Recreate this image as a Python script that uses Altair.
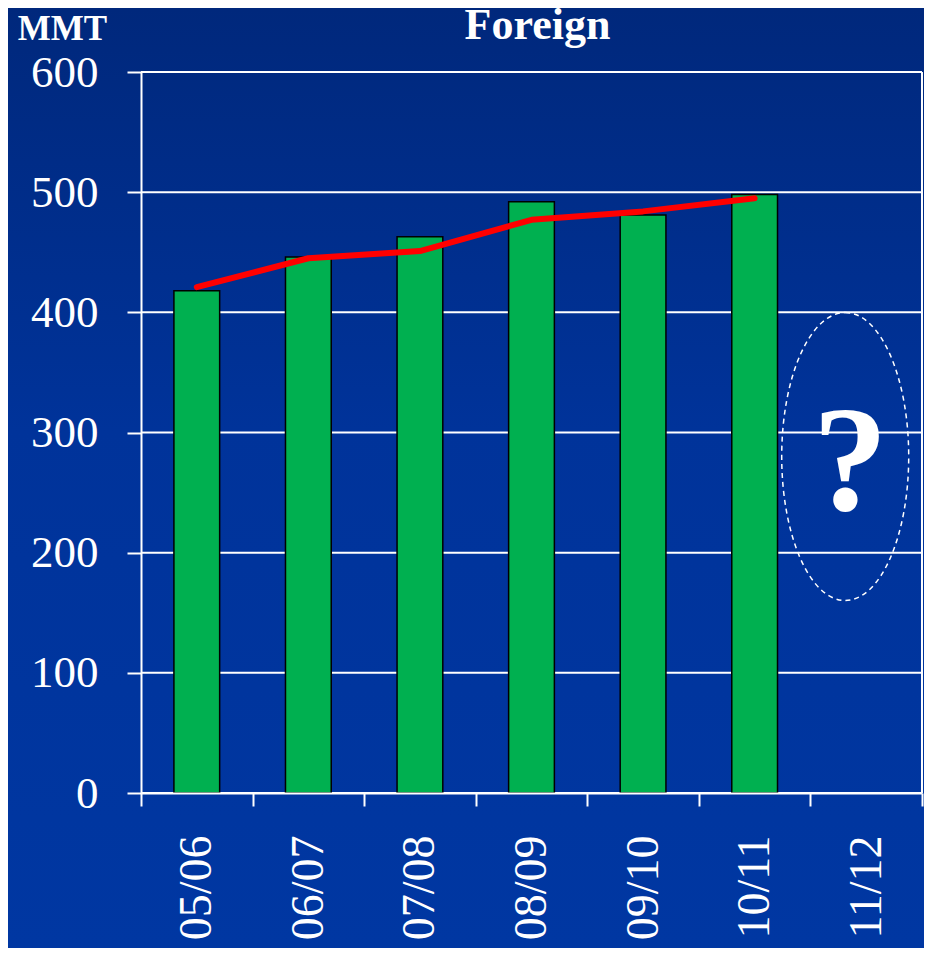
import altair as alt
import pandas as pd

# ---- data ----
seasons = ["05/06", "06/07", "07/08", "08/09", "09/10", "10/11", "11/12"]
bar_seasons = ["05/06", "06/07", "07/08", "08/09", "09/10", "10/11"]
bar_values = [418, 446, 463, 492, 481, 498]
line_values = [421, 445, 451, 477, 484, 495]
y_ticks = [0, 100, 200, 300, 400, 500, 600]
note_season = ["11/12"]
note_value = [280]
note_text = ["?"]
chart_title = ["Foreign"]

bars_df = pd.DataFrame({"season": bar_seasons, "value": bar_values})
line_df = pd.DataFrame({"season": bar_seasons, "value": line_values})
note_df = pd.DataFrame({"season": note_season, "value": note_value, "label": note_text})
grid_df = pd.DataFrame({"value": y_ticks})
title_df = pd.DataFrame({"label": chart_title})

W, H = 781, 721
PAD_L, PAD_T, PAD_R, PAD_B = 133, 64, 2, 155
FONT = "Liberation Serif"

xscale = alt.Scale(domain=seasons, paddingInner=0, paddingOuter=0)
yscale = alt.Scale(domain=[0, 600], nice=False)

x_enc = alt.X(
    "season:N", scale=xscale, title=None,
    axis=alt.Axis(labelAngle=-90, labelFont=FONT, labelFontSize=46, labelColor="white",
                  labelPadding=29, tickSize=13, tickColor="white", tickWidth=2,
                  domainColor="white", domainWidth=2, tickBand="extent", grid=False,
                  zindex=1),
)
y_enc = alt.Y(
    "value:Q", scale=yscale,
    axis=alt.Axis(values=y_ticks, labelFont=FONT, labelFontSize=45, labelColor="white",
                  labelPadding=29, tickSize=14, tickColor="white", tickWidth=2,
                  domainColor="white", domainWidth=2, grid=False, zindex=1,
                  title="MMT", titleAngle=0, titleFont=FONT,
                  titleFontSize=35, titleFontWeight="bold", titleColor="white",
                  titleX=-79, titleY=-33, titleAlign="center", titleBaseline="alphabetic"),
)

bg = alt.Chart(title_df).mark_rect(
    fill=alt.LinearGradient(
        gradient="linear", x1=0, y1=0, x2=0, y2=1,
        stops=[alt.GradientStop(color="#00287c", offset=0),
               alt.GradientStop(color="#00339a", offset=0.45),
               alt.GradientStop(color="#0037a2", offset=1)]),
    clip=False,
).encode(x=alt.value(-PAD_L), x2=alt.value(W + PAD_R), y=alt.value(-PAD_T), y2=alt.value(H + PAD_B))

grid = alt.Chart(grid_df).mark_rule(color="white", strokeWidth=2).encode(
    y=alt.Y("value:Q", scale=yscale), x=alt.value(0), x2=alt.value(W))

right_border = alt.Chart(title_df).mark_rule(color="white", strokeWidth=2).encode(
    x=alt.value(W), y=alt.value(0), y2=alt.value(H))

bars = alt.Chart(bars_df).mark_bar(
    color="#00b050", stroke="black", strokeWidth=1.5,
    width=alt.RelativeBandSize(0.41),
).encode(x=x_enc, y=y_enc)

line = alt.Chart(line_df).mark_line(
    color="#ff0000", strokeWidth=6, strokeCap="round", strokeJoin="round"
).encode(x=alt.X("season:N", scale=xscale), y=alt.Y("value:Q", scale=yscale))

ellipse_path = ("M0,-1 C0.2436,-1 0.441,-0.5523 0.441,0 C0.441,0.5523 0.2436,1 0,1 "
                "C-0.2436,1 -0.441,0.5523 -0.441,0 C-0.441,-0.5523 -0.2436,-1 0,-1 Z")
ellipse = alt.Chart(note_df).mark_point(
    shape=ellipse_path, size=288 * 288, filled=False, stroke="white",
    strokeWidth=1.5, strokeDash=[5, 4], opacity=1, xOffset=-21,
).encode(x=alt.X("season:N", scale=xscale), y=alt.Y("value:Q", scale=yscale))

qmark = alt.Chart(note_df).mark_text(
    font=FONT, fontSize=150, fontWeight="bold", color="white",
    baseline="middle", align="center", xOffset=-16, dy=8,
).encode(x=alt.X("season:N", scale=xscale), y=alt.Y("value:Q", scale=yscale), text="label:N")

title = alt.Chart(title_df).mark_text(
    font=FONT, fontSize=44, fontWeight="bold", color="white",
    baseline="alphabetic", align="center",
).encode(x=alt.value(W / 2 + 6), y=alt.value(-33), text="label:N")

chart = alt.layer(bg, grid, right_border, bars, line, ellipse, qmark, title).properties(
    width=W, height=H,
    autosize=alt.AutoSizeParams(type="none"),
    padding={"left": PAD_L, "top": PAD_T, "right": PAD_R, "bottom": PAD_B},
    background="#00287c",
).configure_view(stroke=None)

chart.save("out.html", embed_options={"renderer": "svg", "actions": False})
